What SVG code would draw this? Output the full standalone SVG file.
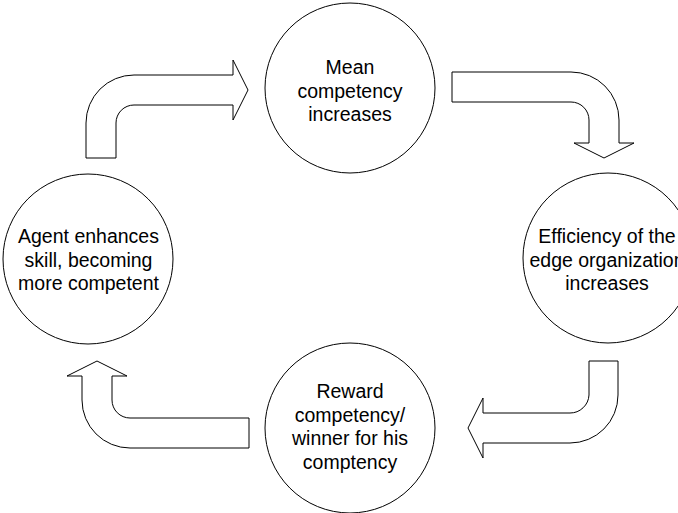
<svg xmlns="http://www.w3.org/2000/svg" width="678" height="513" viewBox="0 0 678 513">
<style>
.node circle{fill:#fff;stroke:#000;stroke-width:1}
.node text{font-family:"Liberation Sans",Arial,sans-serif;font-size:19.5px;fill:#000;text-anchor:middle}
.arrow{fill:#fff;stroke:#000;stroke-width:1;stroke-linejoin:miter}
</style>
<rect width="678" height="513" fill="#fff"/>
<g id="connectors">
<path class="arrow" d="M86,158 L86,123 A48,48 0 0 1 134,75 L233,75 L233,60 L248,90 L233,120 L233,105 L134,105 A18,18 0 0 0 116,123 L116,158 Z"/>
<path class="arrow" d="M452,72 L571,72 A48,48 0 0 1 619,120 L619,143 L634,143 L604,158 L574,143 L589,143 L589,120 A18,18 0 0 0 571,102 L452,102 Z"/>
<path class="arrow" d="M589,361 L618,361 L618,395 A48,48 0 0 1 570,443 L483,443 L483,458 L468,428 L483,398 L483,413 L570,413 A19,19 0 0 0 589,395 Z"/>
<path class="arrow" d="M249,418 L130,418 A18,18 0 0 1 112,400 L112,376 L127,376 L97,361 L67,376 L82,376 L82,400 A48,48 0 0 0 130,448 L249,448 Z"/>
</g>
<g id="node-mean" class="node">
<circle cx="350" cy="88" r="85"/>
<text x="350" y="74">Mean</text>
<text x="350" y="97.5">competency</text>
<text x="350" y="121">increases</text>
</g>
<g id="node-efficiency" class="node">
<circle cx="608" cy="258" r="85"/>
<text x="607" y="243">Efficiency of the</text>
<text x="607" y="266.5">edge organization</text>
<text x="607" y="290">increases</text>
</g>
<g id="node-reward" class="node">
<circle cx="350" cy="428" r="85"/>
<text x="350" y="398">Reward</text>
<text x="350" y="421.5">competency/</text>
<text x="350" y="445">winner for his</text>
<text x="350" y="468.5">comptency</text>
</g>
<g id="node-agent" class="node">
<circle cx="88" cy="259" r="85"/>
<text x="88.5" y="243">Agent enhances</text>
<text x="88.5" y="266.5">skill, becoming</text>
<text x="88.5" y="290">more competent</text>
</g>
</svg>
